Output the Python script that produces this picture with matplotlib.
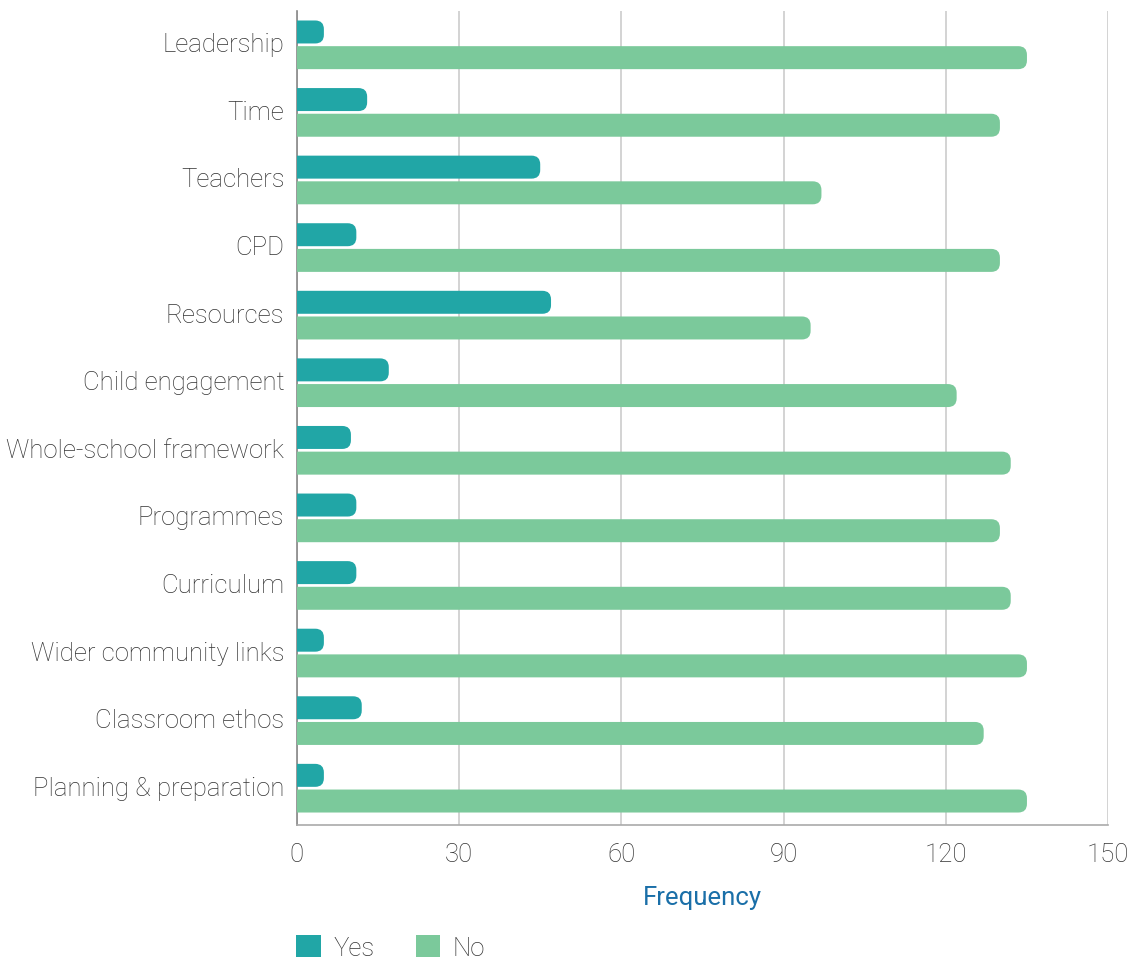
import matplotlib.pyplot as plt
import matplotlib.transforms as mtransforms
import numpy as np
from matplotlib.patches import FancyBboxPatch

plt.rcParams['font.family'] = ['Roboto', 'DejaVu Sans']

# categories and frequencies
categories = ["Leadership", "Time", "Teachers", "CPD", "Resources",
              "Child engagement", "Whole-school framework", "Programmes",
              "Curriculum", "Wider community links", "Classroom ethos",
              "Planning & preparation"]
yes_vals = [5, 13, 45, 11, 47, 17, 10, 11, 11, 5, 12, 5]
no_vals = [135, 130, 97, 130, 95, 122, 132, 130, 132, 135, 127, 135]

yes_col = "#21a6a6"
no_col = "#7bc99b"

fig = plt.figure(figsize=(11.33, 9.62), dpi=100)
ax = fig.add_axes([0.262, 0.141, 0.716, 0.8465])

y = np.arange(len(categories))
h = 0.34
b1 = ax.barh(y - 0.19, yes_vals, height=h, color=yes_col, label="Yes", zorder=3)
b2 = ax.barh(y + 0.19, no_vals, height=h, color=no_col, label="No", zorder=3)

ax.set_xlim(0, 150)
ax.set_ylim(11.55, -0.5)

# swap bars for ones with rounded right ends (left end pushed past the axis and clipped)
fig.canvas.draw()
dx = ax.transData.transform((1, 0))[0] - ax.transData.transform((0, 0))[0]
dy = abs(ax.transData.transform((0, 1))[1] - ax.transData.transform((0, 0))[1])
r = 1.6  # corner radius in x data units
for bars in (b1, b2):
    for p in bars.patches:
        x0, y0 = p.get_x(), p.get_y()
        w, hh = p.get_width(), p.get_height()
        col = p.get_facecolor()
        p.set_visible(False)
        ax.add_patch(FancyBboxPatch((x0 - 3 * r, y0), w + 3 * r, hh,
                                    boxstyle="round,pad=0,rounding_size=%f" % r,
                                    mutation_aspect=dx / dy,
                                    facecolor=col, edgecolor="none", zorder=3))

fs = 18.5
ax.set_yticks(y)
ax.set_yticklabels(categories)
ax.set_xticks([0, 30, 60, 90, 120, 150])
ax.tick_params(axis='y', length=0, pad=9, labelsize=fs, labelcolor="#333333")
ax.tick_params(axis='x', length=0, pad=12, labelsize=fs, labelcolor="#333333")
for lab in ax.get_yticklabels() + ax.get_xticklabels():
    lab.set_fontweight('light')
# nudge category labels up a little
up = mtransforms.ScaledTranslation(0, 3 / 100, fig.dpi_scale_trans)
for lab in ax.get_yticklabels():
    lab.set_transform(lab.get_transform() + up)

ax.grid(axis='x', color="#cccccc", linewidth=1.2, zorder=0)
for s in ["top", "right"]:
    ax.spines[s].set_visible(False)
ax.spines["left"].set_color("#888888")
ax.spines["bottom"].set_color("#aaaaaa")
ax.spines["left"].set_linewidth(1.2)
ax.spines["bottom"].set_linewidth(1.2)

ax.set_xlabel("Frequency", color="#1a6fa8", fontsize=fs, labelpad=14)

leg = fig.legend(handles=[b1, b2], labels=["Yes", "No"], loc="lower left",
                 bbox_to_anchor=(0.241, -0.023), ncol=2, frameon=False,
                 fontsize=fs, handlelength=0.95, handleheight=0.95,
                 columnspacing=1.6, handletextpad=0.5)
for t in leg.get_texts():
    t.set_color("#333333")
    t.set_fontweight('light')
for hnd in leg.legend_handles:
    hnd.set_visible(True)

fig.savefig("out.png", dpi=100)
